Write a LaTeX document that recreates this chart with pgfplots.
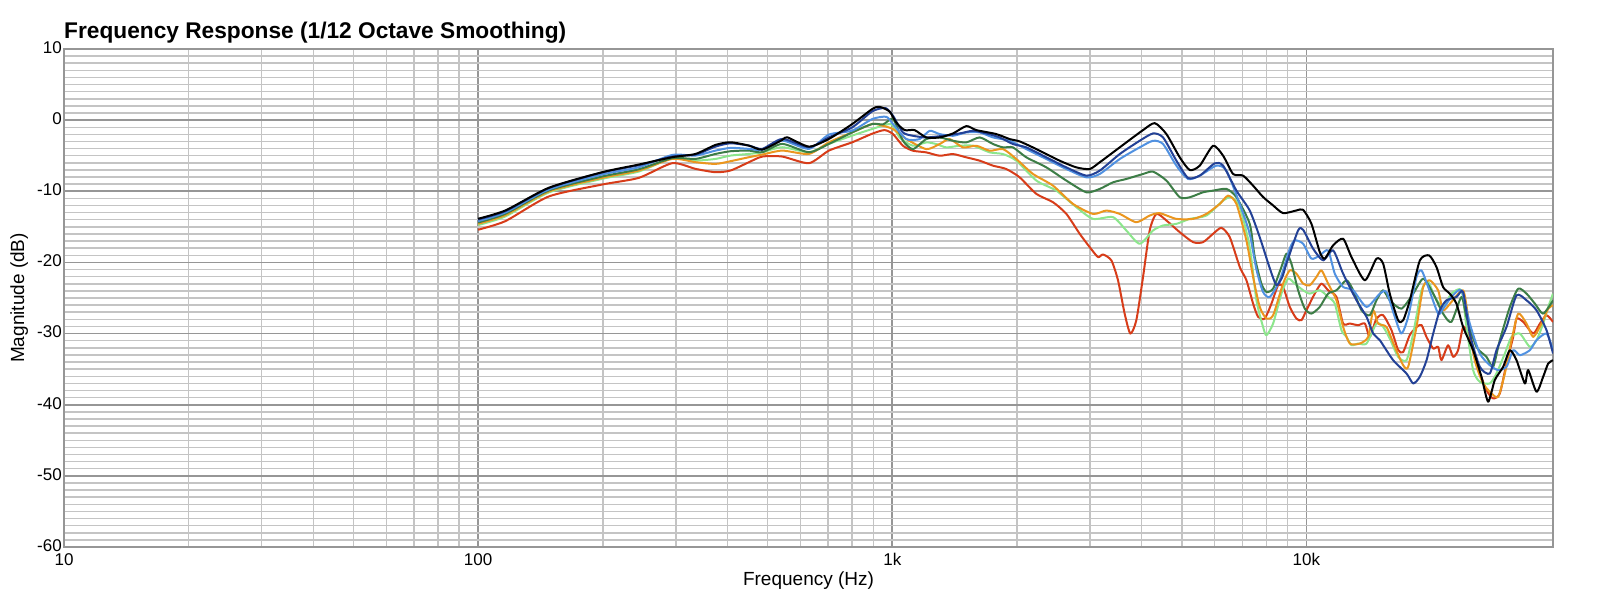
\documentclass[border=0pt]{standalone}
\usepackage{fontspec}
\setmainfont{Liberation Sans}
\usepackage{pgfplots}
\pgfplotsset{compat=1.18}
\definecolor{cnavy}{RGB}{35,65,150}
\definecolor{clblue}{RGB}{80,145,225}
\definecolor{cdgreen}{RGB}{60,125,70}
\definecolor{corange}{RGB}{235,150,30}
\definecolor{clgreen}{RGB}{140,230,140}
\definecolor{cred}{RGB}{215,60,25}
\definecolor{gmajor}{RGB}{150,150,150}
\definecolor{gminor}{RGB}{196,196,196}
\begin{document}
\begin{tikzpicture}
\path[use as bounding box] (0,0) rectangle (1600pt,602pt);
\begin{axis}[
 at={(64pt,55pt)}, anchor=south west, scale only axis, width=1489pt, height=498pt,
 xmode=log, xmin=10, xmax=39400, ymin=-60, ymax=10,
 xtick={10,100,1000,10000}, xticklabels={10,100,1k,10k},
 ytick={-60,-50,-40,-30,-20,-10,0,10}, yticklabels={-60,-50,-40,-30,-20,-10,0,10},
 minor y tick num=9,
 grid=both,
 major grid style={draw=gmajor, line width=1.8pt},
 minor grid style={draw=gminor, line width=1.5pt},
 axis line style={draw=gmajor, line width=1.8pt},
 major tick length=0pt, minor tick length=0pt,
 tick label style={font=\fontsize{17}{20}\selectfont},
 yticklabel style={inner sep=0pt, xshift=-2pt, yshift=1.5pt},
 xticklabel style={inner sep=0pt, yshift=-6pt},
 xlabel={Frequency (Hz)}, ylabel={Magnitude (dB)},
 label style={font=\fontsize{19}{22}\selectfont},
 xlabel style={at={(axis description cs:0.5,0)}, anchor=base, yshift=-38pt},
 ylabel style={at={(axis description cs:-0.02686,0.5)}, anchor=base},
 title={Frequency Response (1/12 Octave Smoothing)},
 title style={at={(axis description cs:0,1)}, anchor=base west, yshift=4.5pt, inner sep=0pt, font=\bfseries\fontsize{22.7}{26}\selectfont},
 every axis plot/.append style={line width=2pt, smooth, tension=0.4, mark=none, line join=round},
]
% red
\addplot[cred] coordinates {(100,-15.40)(116.4,-14.19)(148.1,-10.73)(199.3,-9.05)(244.4,-8.11)(294.2,-6.05)(334.9,-6.85)(374.4,-7.32)(406.9,-7.08)(450.7,-5.91)(485.3,-5.12)(542.5,-5.12)(629.3,-6.05)(703.1,-4.28)(800.6,-3.11)(894.8,-1.9)(958,-1.40)(1004,-1.96)(1061,-3.60)(1122,-4.30)(1208,-4.53)(1301,-5.00)(1401,-4.77)(1509,-5.23)(1626,-5.70)(1751,-6.40)(1885,-6.87)(2030,-8.04)(2228,-10.37)(2444,-11.54)(2632,-13.18)(2835,-15.98)(2997,-17.85)(3139,-19.25)(3228,-18.88)(3381,-19.72)(3508,-22.52)(3640,-27.20)(3757,-30.00)(3884,-28.13)(4031,-22.06)(4183,-15.51)(4342,-13.18)(4591,-14.11)(4944,-15.75)(5325,-17.15)(5628,-17.15)(5950,-15.98)(6233,-15.14)(6530,-16.45)(6903,-20.65)(7164,-22.51)(7434,-25.79)(7644,-27.65)(7931,-27.89)(8232,-25.79)(8543,-23.21)(8783,-23.45)(9115,-26.25)(9458,-27.89)(9725,-28.12)(10000,-26.72)(10474,-24.38)(10870,-22.98)(11281,-23.91)(11815,-24.85)(12262,-28.59)(12726,-28.59)(13331,-28.82)(13837,-28.59)(14223,-30.46)(14761,-27.89)(15319,-27.42)(16046,-29.52)(16650,-32.3)(17122,-32.6)(17768,-30.2)(18442,-29.1)(18963,-28.8)(19500,-30.5)(20232,-32.1)(20797,-31.87)(21183,-33.74)(21982,-31.64)(22602,-33.27)(23236,-32.34)(23894,-29.07)(24570,-30.0)(25733,-34.21)(27210,-37.94)(28236,-39.11)(29309,-38.41)(30416,-34.21)(31566,-30.47)(32156,-27.90)(33372,-28.36)(35285,-30.0)(36617,-28.60)(37999,-27.43)(39400,-28.36)};
% light green
\addplot[clgreen] coordinates {(100,-14.75)(116.4,-13.53)(148.1,-10.17)(199.3,-8.25)(244.4,-7.22)(294.2,-5.35)(334.9,-5.68)(374.4,-5.45)(406.9,-4.98)(450.7,-4.75)(485.3,-4.51)(542.5,-3.81)(629.3,-4.51)(703.1,-3.34)(800.6,-2.17)(894.8,-1.24)(994,-0.56)(1041,-2.43)(1122,-3.60)(1208,-3.13)(1277,-3.36)(1350,-3.83)(1454,-3.60)(1566,-3.60)(1719,-4.53)(1851,-4.77)(1993,-5.70)(2228,-8.50)(2489,-9.91)(2783,-12.24)(3053,-13.88)(3412,-13.64)(3674,-15.51)(3957,-17.38)(4262,-15.51)(4506,-14.81)(4853,-14.58)(5227,-13.88)(5734,-13.41)(6292,-11.31)(6591,-10.84)(6903,-12.24)(7297,-17.85)(7573,-25.32)(7858,-29.06)(8005,-30.23)(8309,-28.59)(8702,-24.38)(9031,-22.28)(9371,-22.98)(9815,-23.91)(10187,-24.38)(10770,-23.91)(11281,-24.85)(11707,-25.79)(12148,-29.53)(12492,-30.46)(12845,-31.63)(13331,-31.40)(13966,-31.40)(14761,-28.59)(15319,-29.06)(15893,-30.70)(16650,-33.27)(17443,-33.74)(18102,-30.0)(18963,-23.93)(19681,-22.76)(20418,-24.86)(21378,-26.26)(22390,-24.39)(23675,-23.93)(24345,-29.07)(25263,-35.14)(26219,-36.78)(27717,-37.01)(28763,-35.61)(30137,-32.80)(31277,-30.47)(32762,-30.0)(34633,-31.87)(35940,-30.93)(37298,-28.60)(38351,-26.26)(39400,-24.39)};
% orange
\addplot[corange] coordinates {(100,-14.56)(116.4,-13.35)(148.1,-10.03)(199.3,-8.11)(244.4,-7.08)(294.2,-5.45)(334.9,-5.91)(374.4,-6.15)(406.9,-5.77)(450.7,-5.21)(485.3,-4.84)(542.5,-4.28)(629.3,-4.75)(703.1,-3.11)(800.6,-1.71)(894.8,-0.54)(949,-0.79)(1004,-1.26)(1081,-2.66)(1208,-4.07)(1301,-3.36)(1376,-2.66)(1481,-3.83)(1596,-3.60)(1719,-4.30)(1851,-4.07)(1993,-5.47)(2187,-7.57)(2444,-9.21)(2732,-11.78)(3053,-13.18)(3288,-12.71)(3541,-13.18)(3884,-14.35)(4183,-13.41)(4423,-13.08)(4853,-13.88)(5325,-13.88)(5734,-13.18)(6176,-11.78)(6470,-10.61)(6776,-11.78)(7163,-16.92)(7434,-22.04)(7714,-26.25)(8005,-27.89)(8309,-27.42)(8783,-22.98)(9115,-21.11)(9458,-21.58)(9815,-22.98)(10187,-23.21)(10572,-22.04)(10870,-21.11)(11281,-22.98)(11815,-25.32)(12262,-29.06)(12726,-31.40)(13456,-31.40)(14096,-30.46)(14491,-26.72)(14898,-28.59)(15602,-29.07)(16345,-31.87)(17122,-34.44)(17605,-34.67)(18442,-29.07)(19140,-23.46)(19862,-22.52)(20797,-23.93)(21378,-26.73)(22390,-25.56)(23894,-23.93)(24570,-27.66)(25497,-33.74)(26707,-37.01)(27980,-38.41)(29035,-38.88)(30137,-35.61)(31277,-30.93)(32461,-27.20)(34000,-28.60)(35285,-30.47)(36956,-28.60)(38351,-26.50)(39400,-26.03)};
% dark green
\addplot[cdgreen] coordinates {(100,-14.38)(116.4,-13.16)(148.1,-9.89)(199.3,-7.92)(244.4,-6.90)(294.2,-5.35)(334.9,-5.45)(374.4,-4.75)(406.9,-4.37)(450.7,-4.28)(485.3,-4.51)(542.5,-3.34)(629.3,-4.51)(703.1,-3.34)(800.6,-1.71)(894.8,-0.54)(950,-0.6)(1004,0.14)(1061,-2.90)(1122,-4.07)(1208,-2.66)(1301,-2.43)(1401,-2.90)(1509,-3.13)(1626,-2.43)(1751,-3.36)(1851,-3.83)(1956,-3.83)(2107,-5.23)(2355,-6.64)(2632,-8.50)(2942,-10.14)(3168,-9.67)(3412,-8.74)(3674,-8.27)(4031,-7.57)(4262,-7.24)(4591,-8.50)(4944,-10.84)(5227,-10.84)(5628,-10.14)(5950,-9.91)(6410,-9.67)(6776,-10.84)(7297,-14.58)(7503,-19.24)(7785,-22.98)(8005,-24.15)(8309,-23.68)(8702,-20.64)(8948,-18.77)(9199,-20.17)(9547,-23.91)(9908,-26.49)(10282,-27.19)(10770,-26.25)(11281,-24.38)(11815,-23.91)(12492,-22.51)(12965,-23.91)(13582,-26.72)(14223,-27.42)(14761,-25.32)(15319,-23.91)(15893,-25.33)(16963,-26.50)(18102,-24.39)(19140,-22.29)(20232,-24.39)(21378,-27.20)(22390,-28.36)(23675,-24.86)(24345,-27.66)(25733,-31.87)(27210,-33.27)(28236,-34.67)(29309,-30.93)(30983,-26.26)(32461,-23.69)(34000,-24.39)(35612,-25.79)(37298,-27.20)(39400,-25.33)};
% light blue
\addplot[clblue] coordinates {(100,-14.19)(116.4,-12.97)(148.1,-9.75)(199.3,-7.64)(244.4,-6.62)(294.2,-4.89)(334.9,-4.98)(374.4,-4.28)(406.9,-3.90)(450.7,-4.04)(485.3,-4.18)(542.5,-2.88)(629.3,-4.04)(703.1,-2.03)(800.6,-1.47)(894.8,0.16)(967,0.47)(1004,-0.56)(1081,-2.66)(1164,-2.66)(1231,-1.50)(1301,-1.96)(1401,-2.20)(1509,-1.73)(1626,-1.73)(1751,-2.43)(1920,-2.90)(2107,-4.07)(2355,-5.47)(2632,-6.87)(2942,-8.04)(3168,-7.57)(3541,-5.47)(3957,-3.83)(4262,-2.90)(4506,-3.36)(4853,-6.40)(5179,-8.27)(5525,-7.80)(6062,-6.40)(6410,-7.10)(6903,-11.8)(7297,-16.0)(7573,-21.0)(7858,-24.15)(8155,-24.85)(8622,-22.51)(9115,-18.07)(9371,-16.9)(9815,-17.37)(10282,-19.47)(10770,-19.01)(11281,-18.31)(11707,-21.58)(12262,-23.45)(12965,-23.91)(13966,-26.25)(15037,-24.39)(15602,-24.16)(16345,-27.66)(16963,-30.0)(17605,-27.66)(18442,-22.06)(18963,-21.12)(19681,-23.46)(20797,-27.20)(21378,-26.50)(22390,-24.86)(23675,-23.93)(24798,-28.60)(26219,-32.80)(27717,-34.44)(29035,-35.14)(30416,-34.67)(31566,-32.34)(32762,-33.04)(34633,-32.34)(35940,-30.93)(37999,-30.0)(39400,-32.34)};
% navy
\addplot[cnavy] coordinates {(100,-13.96)(116.4,-12.79)(148.1,-9.56)(199.3,-7.36)(244.4,-6.33)(294.2,-5.12)(334.9,-4.84)(374.4,-3.72)(406.9,-3.25)(450.7,-3.58)(485.3,-4.04)(542.5,-2.64)(629.3,-3.81)(703.1,-2.41)(800.6,-1.01)(894.8,1.24)(963,1.70)(1004,0.61)(1061,-1.73)(1122,-2.20)(1208,-2.43)(1326,-2.20)(1454,-1.87)(1566,-1.50)(1687,-1.87)(1817,-2.43)(1956,-3.36)(2107,-3.83)(2355,-5.23)(2632,-6.64)(2942,-7.80)(3168,-7.10)(3541,-4.77)(3957,-2.90)(4262,-1.87)(4506,-2.43)(4853,-5.70)(5179,-8.13)(5525,-7.80)(6006,-6.07)(6292,-6.40)(6776,-9.91)(7297,-12.71)(7714,-16.45)(8154,-20.8)(8465,-23.2)(8750,-22.0)(8948,-20.18)(9547,-15.5)(9815,-15.41)(10378,-18.07)(10971,-19.71)(11598,-18.31)(12262,-21.58)(13208,-25.32)(13966,-27.65)(14491,-29.99)(15037,-30.93)(16194,-33.74)(17443,-35.61)(18102,-37.01)(18788,-36.07)(19500,-33.74)(20232,-30.0)(20990,-26.73)(21780,-25.33)(23023,-24.86)(23894,-24.16)(24798,-30.0)(26219,-34.67)(27717,-35.61)(28763,-32.34)(30416,-29.07)(32156,-24.63)(34000,-25.33)(35940,-26.73)(37999,-29.53)(39400,-32.80)};
% black
\addplot[black] coordinates {(100,-13.86)(116.4,-12.69)(148.1,-9.51)(199.3,-7.32)(244.4,-6.24)(294.2,-5.21)(334.9,-4.75)(374.4,-3.48)(406.9,-3.11)(450.7,-3.58)(485.3,-4.14)(542.5,-2.78)(557.8,-2.41)(629.3,-3.72)(703.1,-2.64)(800.6,-0.54)(894.8,1.57)(932,1.87)(985,1.21)(1022,-0.33)(1071,-1.40)(1132,-1.40)(1208,-2.43)(1301,-2.43)(1401,-1.87)(1509,-0.84)(1596,-1.40)(1783,-1.96)(1920,-2.66)(2030,-2.99)(2228,-4.07)(2536,-5.70)(2783,-6.64)(2997,-6.87)(3168,-5.93)(3412,-4.53)(3674,-3.13)(4031,-1.40)(4302,-0.42)(4591,-1.96)(4944,-5.23)(5227,-7.01)(5525,-6.40)(5950,-3.60)(6292,-5.00)(6652,-7.57)(7031,-7.80)(7433,-9.21)(7858,-10.8)(8309,-11.99)(8783,-13.07)(9458,-12.70)(9815,-12.60)(10282,-14.57)(10770,-18.54)(11073,-19.47)(11598,-17.60)(12262,-16.67)(12845,-19.24)(13837,-22.51)(14761,-19.47)(15319,-20.17)(15893,-24.39)(16650,-28.13)(17122,-28.13)(17768,-25.33)(18788,-19.72)(19790,-19.02)(20606,-20.65)(21378,-23.46)(22185,-24.39)(23023,-25.79)(23894,-29.07)(25263,-32.34)(26461,-36.07)(27462,-39.58)(28498,-36.54)(29854,-34.67)(30983,-32.34)(32156,-33.74)(33688,-37.01)(34314,-35.14)(35940,-38.18)(37298,-36.07)(38351,-34.21)(39400,-33.74)};
\end{axis}
\end{tikzpicture}
\end{document}
